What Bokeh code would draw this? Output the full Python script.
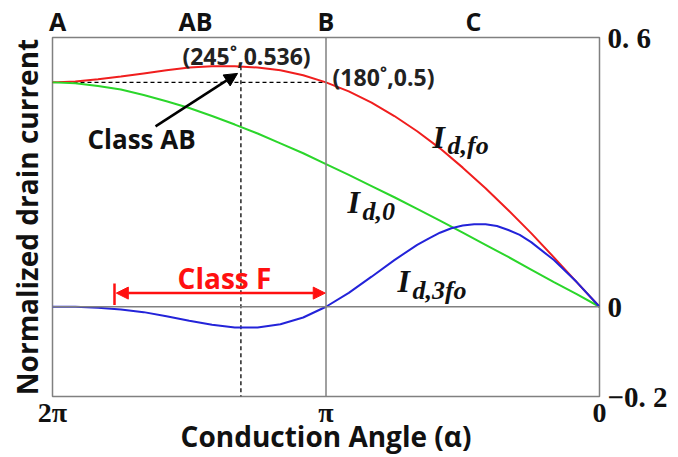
from bokeh.plotting import figure
from bokeh.models import (Range1d, LinearAxis, FixedTicker, Span, Label, Arrow,
                          NormalHead)
from bokeh.embed import file_html
from bokeh.resources import INLINE

# ---- data (conduction angle in degrees, normalized currents) ----
alpha_deg = [360, 345, 330, 315, 300, 285, 270, 255, 240, 225, 210, 195, 180,
             165, 150, 135, 120, 105, 90, 75, 60, 45, 30, 15, 0]
i_fo = [0.500, 0.502, 0.507, 0.513, 0.520, 0.527, 0.533, 0.536, 0.536, 0.533,
        0.527, 0.516, 0.500, 0.480, 0.455, 0.425, 0.391, 0.353, 0.310, 0.264,
        0.215, 0.164, 0.110, 0.055, 0.000]
i_0 = [0.500, 0.498, 0.492, 0.484, 0.472, 0.458, 0.443, 0.425, 0.406, 0.386,
       0.364, 0.342, 0.318, 0.294, 0.269, 0.244, 0.218, 0.192, 0.165, 0.138,
       0.111, 0.083, 0.055, 0.028, 0.000]
alpha_3fo = [360, 345, 330, 315, 300, 285, 270, 255, 240, 225, 210, 195, 180,
             165, 150, 135, 120, 112.5, 105, 97.5, 90, 82.5, 75, 67.5, 60, 52.5,
             45, 30, 15, 0]
i_3fo = [0.000, -0.000, -0.002, -0.006, -0.012, -0.021, -0.031, -0.040, -0.046,
         -0.046, -0.039, -0.024, 0.000, 0.031, 0.067, 0.104, 0.138, 0.152,
         0.165, 0.175, 0.181, 0.184, 0.184, 0.180, 0.171, 0.160, 0.144, 0.104,
         0.055, 0.000]

x_ticks = [360, 180, 0]
x_tick_labels = ["2π", "π", "0"]
y_ticks = [0.6, 0, -0.2]
y_tick_labels = ["0. 6", "0", "−0. 2"]
region_pos = [356.7, 265.9, 180, 82.9]
region_names = ["A", "AB", "B", "C"]
peak_point = (236, 0.536)
b_point = (180, 0.5)

SANS = "Open Sans"
SERIF = "Liberation Serif"

p = figure(width=678, height=457, output_backend="svg", toolbar_location=None,
           x_range=Range1d(360, 0), y_range=Range1d(-0.2, 0.6),
           x_axis_location=None, y_axis_location=None,
           min_border_left=52, min_border_right=79, min_border_top=33,
           min_border_bottom=55)
p.grid.visible = False
p.outline_line_color = "#808080"
p.outline_line_width = 1.5
p.background_fill_color = "white"
p.border_fill_color = "white"


def bare(ax):
    ax.axis_line_color = None
    ax.major_tick_line_color = None
    ax.minor_tick_line_color = None
    ax.major_tick_out = 0
    ax.major_tick_in = 0
    ax.minor_tick_out = 0
    ax.minor_tick_in = 0
    ax.major_label_text_color = "#111111"
    ax.axis_label_text_color = "#111111"
    return ax


# bottom axis: 2pi, pi, 0 + title
xax = bare(LinearAxis(ticker=FixedTicker(ticks=x_ticks),
                      major_label_overrides={t: l for t, l in zip(x_ticks, x_tick_labels)}))
xax.major_label_standoff = 0
xax.major_label_text_font = SERIF
xax.major_label_text_font_style = "bold"
xax.major_label_text_font_size = "28px"
xax.axis_label = "Conduction Angle (α)"
xax.axis_label_text_font = SANS
xax.axis_label_text_font_style = "bold"
xax.axis_label_text_font_size = "28px"
xax.axis_label_standoff = -14
p.add_layout(xax, "below")

# top axis: region names
tax = bare(LinearAxis(ticker=FixedTicker(ticks=region_pos),
                      major_label_overrides={t: l for t, l in zip(region_pos, region_names)}))
tax.major_label_standoff = 0
tax.major_label_text_font = SANS
tax.major_label_text_font_style = "bold"
tax.major_label_text_font_size = "25px"
p.add_layout(tax, "above")

# left axis: title only
lax = bare(LinearAxis(ticker=FixedTicker(ticks=[])))
lax.major_label_standoff = 0
lax.axis_label = "Normalized drain current"
lax.axis_label_text_font = SANS
lax.axis_label_text_font_style = "bold"
lax.axis_label_text_font_size = "28px"
lax.axis_label_standoff = 7
p.add_layout(lax, "left")

# right axis: values
yax = bare(LinearAxis(ticker=FixedTicker(ticks=y_ticks),
                      major_label_overrides={t: l for t, l in zip(y_ticks, y_tick_labels)}))
yax.major_label_standoff = 8
yax.major_label_text_font = SERIF
yax.major_label_text_font_style = "bold"
yax.major_label_text_font_size = "29px"
p.add_layout(yax, "right")

# reference lines
p.add_layout(Span(location=180, dimension="height", line_color="#808080", line_width=1.5))
p.add_layout(Span(location=0, dimension="width", line_color="#808080", line_width=1.5))

# dashed guide lines
p.line([360, b_point[0]], [b_point[1], b_point[1]], line_color="black",
       line_dash="4 3", line_width=1.3)
p.line([peak_point[0], peak_point[0]], [peak_point[1], -0.2], line_color="black",
       line_dash="4 3", line_width=1.3)

# curves
p.line(alpha_deg, i_fo, line_color="#f01e1e", line_width=2)
p.line(alpha_deg, i_0, line_color="#2bd62b", line_width=2)
p.line(alpha_3fo, i_3fo, line_color="#2323d9", line_width=2)


def lab(x, y, text, size, font=SANS, style="bold", color="#111111",
        align="center", baseline="middle"):
    p.add_layout(Label(x=x, y=y, text=text, text_font=font,
                       text_font_style=style, text_font_size=size,
                       text_color=color, text_align=align,
                       text_baseline=baseline))


lab(232.3, 0.5587, "(245˚,0.536)", "23px", color="#222222")
lab(175.7, 0.513, "(180˚,0.5)", "23px", color="#222222", align="left")
lab(301.4, 0.374, "Class AB", "26px")
lab(246.8, 0.063, "Class F", "28px", color="#ff1010")

p.add_layout(Arrow(end=NormalHead(size=13, fill_color="black", line_color="black"),
                   x_start=292.2, y_start=0.402, x_end=238.2, y_end=0.520,
                   line_color="black", line_width=2.5))
p.add_layout(Arrow(start=NormalHead(size=12, fill_color="#ff1010", line_color="#ff1010"),
                   end=NormalHead(size=12, fill_color="#ff1010", line_color="#ff1010"),
                   x_start=318, y_start=0.0304, x_end=180.5, y_end=0.0304,
                   line_color="#ff1010", line_width=2.5))
p.segment(x0=[319.2], y0=[0.052], x1=[319.2], y1=[0.004], line_color="#ff1010",
          line_width=2.5)

# curve labels
lab(109.9, 0.378, "I", "32px", font=SERIF, style="bold italic", align="left",
    baseline="alphabetic")
lab(100.0, 0.359, "d,fo", "26px", font=SERIF, style="bold italic", align="left",
    baseline="alphabetic")
lab(165.9, 0.2326, "I", "32px", font=SERIF, style="bold italic", align="left",
    baseline="alphabetic")
lab(156.0, 0.2132, "d,0", "26px", font=SERIF, style="bold italic", align="left",
    baseline="alphabetic")
lab(132.9, 0.0565, "I", "32px", font=SERIF, style="bold italic", align="left",
    baseline="alphabetic")
lab(123.1, 0.0371, "d,3fo", "26px", font=SERIF, style="bold italic", align="left",
    baseline="alphabetic")

open("out.html", "w").write(file_html(p, INLINE))
